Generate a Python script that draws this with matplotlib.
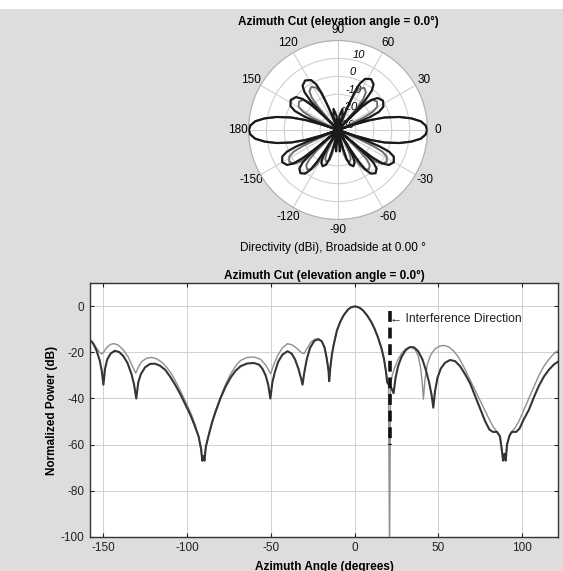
import numpy as np
import matplotlib
matplotlib.use("Agg")
import matplotlib.pyplot as plt
from matplotlib.patches import Rectangle

plt.rcParams['font.family'] = ['Liberation Sans', 'DejaVu Sans']
plt.rcParams['axes.unicode_minus'] = False

# ---------------- data: polar directivity (deg, dBi) ----------------
polar_dark_theta = [
    0, 3, 6, 9, 12, 15, 17, 18.5, 20,
    20.65, 21.95, 23.9, 27.15, 33, 38.85, 42.1, 44.05, 45.35, 46,
    46.55, 47.65, 49.3, 52.05, 57, 61.95, 64.7, 66.35, 67.45, 68,
    72, 78, 84, 88, 92, 96, 102, 108, 112,
    112.575, 113.725, 115.45, 118.325, 123.5, 128.675, 131.55, 133.275, 134.425, 135,
    135.625, 136.875, 138.75, 141.875, 147.5, 153.125, 156.25, 158.125, 159.375, 160,
    161.5, 163, 165, 168, 171, 174, 177, 180, 183, 186, 189, 192, 195, 197, 198.5, 200,
    200.5, 201.5, 203, 205.5, 210, 214.5, 217, 218.5, 219.5, 220,
    220.45, 221.35, 222.7, 224.95, 229, 233.05, 235.3, 236.65, 237.55, 238,
    238.45, 239.35, 240.7, 242.95, 247, 251.05, 253.3, 254.65, 255.55, 256,
    260, 265, 270, 275, 280, 284,
    284.45, 285.35, 286.7, 288.95, 293, 297.05, 299.3, 300.65, 301.55, 302,
    302.45, 303.35, 304.7, 306.95, 311, 315.05, 317.3, 318.65, 319.55, 320,
    320.5, 321.5, 323, 325.5, 330, 334.5, 337, 338.5, 339.5, 340,
    341.5, 343, 345, 348, 351, 354, 357, 360]
polar_dark_r = [
    19.8, 19, 16.5, 11.5, 5, -3, -11, -20, -30,
    -20, -11, -5, -1.5, 0, -1.5, -5, -11, -20, -30,
    -16.1, -7.1, -1.1, 2.4, 3.9, 2.4, -1.1, -7.1, -16.1, -30,
    -22, -18, -22, -30, -30, -22, -18, -22, -30,
    -16.8, -7.8, -1.8, 1.7, 3.2, 1.7, -1.8, -7.8, -16.8, -30,
    -18.7, -9.7, -3.7, -0.2, 1.3, -0.2, -3.7, -9.7, -18.7, -30,
    -20, -11, -3, 5, 11.5, 16.5, 19, 19.8, 19, 16.5, 11.5, 5, -3, -11, -20, -30,
    -14, -5, 1, 4.5, 6, 4.5, 1, -5, -14, -30,
    -18, -9, -3, 0.5, 2, 0.5, -3, -9, -18, -30,
    -28, -19, -13, -9.5, -8, -9.5, -13, -19, -28, -30,
    -22, -18, -30, -18, -22, -30,
    -28, -19, -13, -9.5, -8, -9.5, -13, -19, -28, -30,
    -18, -9, -3, 0.5, 2, 0.5, -3, -9, -18, -30,
    -14, -5, 1, 4.5, 6, 4.5, 1, -5, -14, -30,
    -20, -11, -3, 5, 11.5, 16.5, 19, 19.8]

polar_light_theta = [
    0, 3, 6, 9, 12, 15, 17, 18.5, 20, 24,
    24.6, 25.8, 27.6, 30.6, 36, 41.4, 44.4, 46.2, 47.4, 48,
    48.5, 49.5, 51, 53.5, 58, 62.5, 65, 66.5, 67.5, 68,
    90, 112,
    112.5, 113.5, 115, 117.5, 122, 126.5, 129, 130.5, 131.5, 132,
    132.6, 133.8, 135.6, 138.6, 144, 149.4, 152.4, 154.2, 155.4, 156,
    160, 161.5, 163, 165, 168, 171, 174, 177, 180, 183, 186, 189, 192, 195, 197, 198.5, 200, 203,
    203.5, 204.5, 206, 208.5, 213, 217.5, 220, 221.5, 222.5, 223,
    223.45, 224.35, 225.7, 227.95, 232, 236.05, 238.3, 239.65, 240.55, 241,
    242.35, 243.7, 245.95, 250, 254.05, 256.3, 257.65, 259,
    270, 281,
    282.35, 283.7, 285.95, 290, 294.05, 296.3, 297.65, 299,
    299.45, 300.35, 301.7, 303.95, 308, 312.05, 314.3, 315.65, 316.55, 317,
    317.5, 318.5, 320, 322.5, 327, 331.5, 334, 335.5, 336.5, 337,
    340, 341.5, 343, 345, 348, 351, 354, 357, 360]
polar_light_r = [
    19.8, 19, 16.5, 11.5, 5, -3, -11, -20, -30, -30,
    -23, -14, -8, -4.5, -3, -4.5, -8, -14, -23, -30,
    -22.3, -13.3, -7.3, -3.8, -2.3, -3.8, -7.3, -13.3, -22.3, -30,
    -30, -30,
    -21.7, -12.7, -6.7, -3.2, -1.7, -3.2, -6.7, -12.7, -21.7, -30,
    -23, -14, -8, -4.5, -3, -4.5, -8, -14, -23, -30,
    -30, -20, -11, -3, 5, 11.5, 16.5, 19, 19.8, 19, 16.5, 11.5, 5, -3, -11, -20, -30, -30,
    -17.5, -8.5, -2.5, 1, 2.5, 1, -2.5, -8.5, -17.5, -30,
    -22, -13, -7, -3.5, -2, -3.5, -7, -13, -22, -30,
    -22, -16, -12.5, -11, -12.5, -16, -22, -30,
    -30, -30,
    -22, -16, -12.5, -11, -12.5, -16, -22, -30,
    -22, -13, -7, -3.5, -2, -3.5, -7, -13, -22, -30,
    -17.5, -8.5, -2.5, 1, 2.5, 1, -2.5, -8.5, -17.5, -30,
    -30, -20, -11, -3, 5, 11.5, 16.5, 19, 19.8]

polar_rticks = [-30, -20, -10, 0, 10, 20]
polar_rticklabels = ['-30', '-20', '-10', '0', '10', '']
polar_thetaticks = [0, 30, 60, 90, 120, 150, 180, 210, 240, 270, 300, 330]
polar_thetalabels = ['0', '30', '60', '90', '120', '150', '180',
                     '-150', '-120', '-90', '-60', '-30']

# ---------------- data: normalized power (deg, dB) ----------------
dark_az = [-158, -156, -154, -152, -150.8, -149.8, -148.8, -147.5, -145.5, -143,
           -140.5, -138, -135.5, -133, -131.5, -130.2, -129, -127.5, -125, -122,
           -119, -116, -113, -110, -107, -104, -101, -98, -95.5, -93,
           -91.5, -90.8, -90.2, -89.5, -88.7, -87, -85, -83, -80, -77,
           -74, -71, -68, -64, -60, -57, -55, -53, -51.5, -50.2,
           -49, -47.5, -45.5, -43, -40, -37.5, -35.5, -33.5, -32, -31,
           -30, -28.5, -26.5, -24, -21.5, -19.5, -17.8, -16.5, -15.5, -15.1,
           -14.5, -13.5, -12.5, -10.5, -8.5, -6.5, -4, -2, 0.5, 3,
           5, 7.5, 10, 12, 14, 16, 17.5, 18.7, 19.5, 21,
           22, 23.3, 24.5, 26, 28, 30.5, 33, 35.5, 38, 40.5,
           42.5, 44.5, 46, 47, 48, 49.5, 51.5, 54, 57, 60,
           63, 66, 69, 72, 75, 78, 80.5, 82.5, 85, 86.8,
           88, 88.6, 89.5, 90.2, 91, 92.5, 94, 96.5, 98.5, 101,
           104, 107, 110, 113, 116, 119, 121.5]
dark_db = [-14.5, -16.0, -19.0, -23.5, -28, -34, -27, -23, -20.5, -19.3,
           -19.8, -21.5, -24.5, -29.5, -34, -40, -33, -29.5, -26.5, -25.0,
           -24.9, -25.8, -27.5, -30.5, -34, -38, -42.5, -47, -51.5, -56.5,
           -62, -67, -65, -67, -61, -56, -50.5, -46, -40, -35,
           -31, -28, -26, -24.8, -24.6, -25.3, -27, -30, -34, -40,
           -33, -28.5, -24, -21, -19.5, -20.5, -23, -27, -31, -34,
           -29, -23, -18, -15, -14.3, -15.2, -18, -23, -28, -32.5,
           -27, -21, -17, -10.5, -6.7, -3.9, -1.5, -0.4, 0, -0.6,
           -1.7, -3.9, -6.8, -9.8, -13.5, -18, -22.5, -28, -33, -34.5,
           -35.5, -37.7, -31, -26, -22, -19, -17.7, -17.8, -19.5, -23,
           -27.5, -33, -38.5, -44, -37, -31, -27, -24.5, -23.3, -23.8,
           -26, -29.5, -33.5, -39, -44.5, -50, -53.5, -54.5, -54.5, -56.5,
           -63, -67, -64, -67, -60, -56, -54.5, -54.5, -53, -49,
           -45, -39.5, -34.5, -30.5, -27.5, -25.2, -24]

light_az = [-158, -156, -154, -152, -151, -150, -148, -145.5, -143.5, -141,
            -138, -135, -132.5, -130.5, -129, -127, -124, -121, -118, -115,
            -112, -109, -106, -103, -100, -97, -95, -93, -91.5, -90.8,
            -90.2, -89.5, -88.7, -87, -85, -83, -80, -77, -74, -71,
            -68, -64, -60, -56, -53, -51, -50, -48.5, -46, -43,
            -40, -37, -34, -31.5, -30, -28.5, -26, -23.5, -21.5, -19.5,
            -17.8, -16.5, -15.5, -15, -14.5, -13.5, -12.5, -10.5, -8.5, -6.5,
            -4, -2, 0.5, 3, 5, 7.5, 10, 12, 14, 16,
            17.5, 18.7, 19.5, 20.3, 20.9, 21.5, 22.5, 24, 26, 28.5,
            31, 33.5, 36, 38, 39.5, 40.5, 41.1, 42, 43.5, 45.5,
            48, 51, 53.5, 56, 59, 62, 65, 68, 71, 74,
            77, 80, 82.5, 84.5, 86.5, 88, 88.6, 89.5, 90.2, 91,
            93, 95.5, 98, 101, 104, 107, 110, 113, 116, 119, 121.5]
light_db = [-14.5, -15.8, -18, -20, -20.6, -20.2, -18, -16.5, -16.2, -16.8,
            -18.8, -22, -26, -29, -26.5, -24, -22.5, -22.2, -22.8, -24.2,
            -26.5, -29.5, -33.5, -38, -42.5, -47.5, -51.5, -57, -62.5, -67,
            -65, -67, -61, -55.5, -50, -45.5, -39.5, -34, -29.5, -26,
            -23.5, -22.2, -22, -23, -25.5, -28, -29.2, -26, -21.5, -18,
            -16.2, -16.8, -18.5, -20.2, -20.5, -18.5, -15.5, -14.2, -14.2, -15.2,
            -18, -22.5, -27.5, -31.5, -27, -21, -17, -10.5, -6.7, -3.9,
            -1.5, -0.4, 0, -0.6, -1.7, -3.9, -6.8, -9.8, -13.5, -18,
            -22.5, -28, -31, -34, -110, -34, -30, -26.5, -23, -20,
            -18.3, -17.7, -18.5, -21.5, -27, -34, -40.3, -32, -25, -21,
            -18.5, -17.2, -17, -17.5, -19.3, -22, -26, -30.5, -35, -39.5,
            -44, -48.5, -52, -54, -56, -62, -66, -64, -66, -60,
            -55, -53, -50, -45, -40, -35, -30, -26, -23, -20.5, -19.2]

interference_az = 21.0
interference_span = [-2, -60]
interference_label = "\u2190 Interference Direction"
x_ticks = [-150, -100, -50, 0, 50, 100]
y_ticks = [0, -20, -40, -60, -80, -100]

# ---------------- figure ----------------
W, H = 563, 571
fig = plt.figure(figsize=(W / 100, H / 100), dpi=100, facecolor='#dddddd')
fig.patches.append(Rectangle((0, 1 - 9 / H), 1, 9 / H, transform=fig.transFigure,
                             facecolor='white', edgecolor='none', zorder=0))

GRID = '#d0d0d0'
DARK = '#353535'
LIGHT = '#8f8f8f'

# polar axes
cx, cy, R = 338, 130, 89.5
axp = fig.add_axes([(cx - R) / W, 1 - (cy + R) / H, 2 * R / W, 2 * R / H],
                   projection='polar')
axp.set_facecolor('white')
axp.set_theta_zero_location('E')
axp.set_theta_direction(1)
axp.plot(np.deg2rad(polar_light_theta), polar_light_r, color='#6e6e6e', lw=1.4, zorder=3)
axp.plot(np.deg2rad(polar_dark_theta), polar_dark_r, color='#1a1a1a', lw=1.6, zorder=4)
axp.set_ylim(-30, 20)
axp.set_rticks(polar_rticks)
axp.set_yticklabels(polar_rticklabels, fontsize=8, fontstyle='italic', zorder=5)
axp.set_rlabel_position(78)
axp.set_thetagrids(polar_thetaticks, polar_thetalabels, fontsize=8.5)
axp.tick_params(axis='x', pad=-3)
axp.grid(True, color=GRID, lw=0.8)
axp.spines['polar'].set_color('#b0b0b0')
axp.spines['polar'].set_linewidth(0.8)
fig.text(cx / W, 1 - 22 / H, "Azimuth Cut (elevation angle = 0.0\u00b0)",
         ha='center', va='center', fontsize=8.5, fontweight='bold', zorder=10)
fig.text(333 / W, 1 - 248 / H, "Directivity (dBi), Broadside at 0.00 \u00b0",
         ha='center', va='center', fontsize=8.5)

# cartesian axes
left, right, top, bottom = 90, 558, 283.3, 536.7
ax = fig.add_axes([left / W, 1 - bottom / H, (right - left) / W, (bottom - top) / H])
ax.set_facecolor('white')
ax.plot(light_az, light_db, color=LIGHT, lw=1.0, zorder=3)
ax.plot(dark_az, dark_db, color=DARK, lw=1.5, zorder=4)
ax.plot([interference_az, interference_az], interference_span, color='#111111',
        lw=2.6, ls=(0, (3, 1.6)), zorder=5)
ax.text(interference_az + 0.3, -5.6, interference_label, fontsize=8.7,
        ha='left', va='center', color='#222222', zorder=6)
ax.set_xlim(-157.8, 121.4)
ax.set_ylim(-100, 10)
ax.set_xticks(x_ticks)
ax.set_yticks(y_ticks)
ax.tick_params(direction='in', top=True, right=True, length=3, width=0.8,
               labelsize=8.5, pad=4, colors='#222222')
ax.grid(True, color=GRID, lw=0.7)
for s in ax.spines.values():
    s.set_color('#333333')
    s.set_linewidth(1.0)
ax.set_title("Azimuth Cut (elevation angle = 0.0\u00b0)", fontsize=8.5,
             fontweight='bold', pad=3)
ax.set_ylabel("Normalized Power (dB)", fontsize=8.5, fontweight='bold', labelpad=2)
ax.set_xlabel("Azimuth Angle (degrees)", fontsize=8.5, fontweight='bold', labelpad=5)

fig.savefig("out.png", dpi=100, facecolor=fig.get_facecolor())
